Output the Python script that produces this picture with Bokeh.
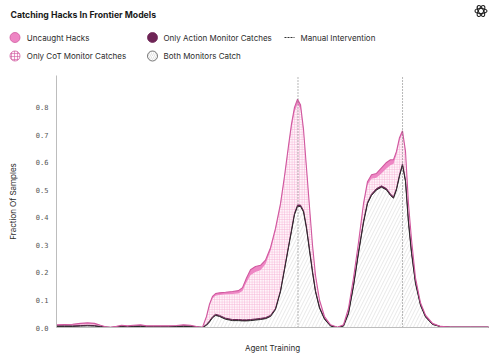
import numpy as np
from bokeh.plotting import figure
from bokeh.models import Range1d
from bokeh.core.properties import value
from bokeh.embed import file_html
from bokeh.resources import INLINE

# ---------------- data ----------------
training_step = [0.0, 1.85, 3.70, 5.56, 7.18, 8.80, 10.19, 11.34, 12.50, 13.89, 15.05, 16.44, 17.82,
                 19.44, 20.83, 22.45, 24.07, 25.93, 27.78, 29.40, 31.02, 32.64, 33.80, 34.72, 35.42,
                 36.11, 36.81, 37.73, 39.12, 40.74, 42.13, 43.06, 43.98, 44.91, 46.06, 47.22, 48.38,
                 49.54, 50.69, 51.85, 52.78, 53.70, 54.40, 55.09, 55.79, 56.48, 57.18, 57.87, 58.56,
                 59.26, 59.95, 60.88, 62.04, 63.43, 65.05, 66.44, 67.59, 68.75, 69.91, 71.06, 71.99,
                 72.92, 74.07, 75.23, 76.39, 77.31, 78.01, 78.70, 79.40, 80.09, 80.79, 81.48, 82.18,
                 83.10, 84.26, 85.42, 87.04, 88.89, 91.20, 95.83, 100.0]

total_hacks = [0.010, 0.011, 0.012, 0.015, 0.017, 0.015, 0.008, 0.003, 0.001, 0.004, 0.008, 0.006, 0.008,
               0.010, 0.006, 0.006, 0.006, 0.006, 0.007, 0.010, 0.008, 0.003, 0.001, 0.040, 0.085,
               0.113, 0.123, 0.126, 0.128, 0.131, 0.134, 0.145, 0.180, 0.210, 0.222, 0.226, 0.245,
               0.290, 0.360, 0.450, 0.550, 0.660, 0.740, 0.800, 0.830, 0.810, 0.720, 0.580, 0.440,
               0.300, 0.190, 0.100, 0.040, 0.010, 0.001, 0.010, 0.070, 0.180, 0.310, 0.450, 0.530,
               0.555, 0.560, 0.580, 0.600, 0.610, 0.610, 0.640, 0.690, 0.715, 0.640, 0.450, 0.320,
               0.180, 0.090, 0.045, 0.015, 0.004, 0.0016, 0.0016, 0.0016]

both_catch = [0.004, 0.004, 0.004, 0.005, 0.006, 0.005, 0.003, 0.001, 0.000, 0.001, 0.003, 0.002, 0.003,
              0.004, 0.003, 0.003, 0.003, 0.003, 0.003, 0.004, 0.003, 0.001, 0.000, 0.008, 0.020,
              0.035, 0.044, 0.040, 0.030, 0.025, 0.025, 0.024, 0.024, 0.025, 0.027, 0.029, 0.032,
              0.040, 0.065, 0.130, 0.210, 0.290, 0.350, 0.410, 0.440, 0.440, 0.420, 0.360, 0.280,
              0.200, 0.130, 0.070, 0.030, 0.005, 0.000, 0.005, 0.050, 0.150, 0.270, 0.380, 0.450,
              0.480, 0.500, 0.510, 0.500, 0.480, 0.470, 0.500, 0.550, 0.590, 0.530, 0.380, 0.270,
              0.160, 0.080, 0.038, 0.011, 0.003, 0.001, 0.001, 0.001]

action_only = [0.002, 0.002, 0.002, 0.002, 0.002, 0.002, 0.001, 0.0005, 0.0003, 0.001, 0.002, 0.001, 0.002,
               0.002, 0.001, 0.001, 0.001, 0.001, 0.001, 0.002, 0.002, 0.001, 0.0003, 0.003, 0.004,
               0.004, 0.004, 0.004, 0.004, 0.004, 0.004, 0.004, 0.004, 0.004, 0.004, 0.004, 0.004,
               0.004, 0.004, 0.004, 0.004, 0.005, 0.005, 0.005, 0.005, 0.005, 0.005, 0.005, 0.005,
               0.005, 0.004, 0.004, 0.003, 0.002, 0.0003, 0.002, 0.004, 0.004, 0.005, 0.005, 0.005,
               0.005, 0.005, 0.005, 0.005, 0.005, 0.005, 0.005, 0.005, 0.005, 0.005, 0.005, 0.005,
               0.004, 0.004, 0.003, 0.002, 0.0005, 0.0003, 0.0003, 0.0003]

uncaught = [0.003, 0.003, 0.003, 0.004, 0.004, 0.004, 0.002, 0.001, 0.0005, 0.001, 0.002, 0.002, 0.002,
            0.003, 0.002, 0.002, 0.002, 0.002, 0.002, 0.003, 0.002, 0.001, 0.0005, 0.004, 0.007,
            0.008, 0.008, 0.008, 0.008, 0.009, 0.010, 0.012, 0.016, 0.020, 0.020, 0.018, 0.015,
            0.012, 0.012, 0.012, 0.013, 0.014, 0.016, 0.018, 0.018, 0.016, 0.012, 0.010, 0.008,
            0.007, 0.006, 0.004, 0.003, 0.002, 0.0005, 0.002, 0.004, 0.006, 0.008, 0.010, 0.012,
            0.014, 0.016, 0.020, 0.022, 0.020, 0.016, 0.012, 0.010, 0.010, 0.010, 0.008, 0.006,
            0.005, 0.004, 0.003, 0.001, 0.0005, 0.0003, 0.0003, 0.0003]

interventions = [55.9, 80.1]
y_ticks = [0.0, 0.1, 0.2, 0.3, 0.4, 0.5, 0.6, 0.7, 0.8]
y_tick_labels = ["0.0", "0.1", "0.2", "0.3", "0.4", "0.5", "0.6", "0.7", "0.8"]
x_domain = (0.0, 100.0)
y_domain = (0.0, 0.916)
legend_labels = ["Uncaught Hacks", "Only CoT Monitor Catches", "Only Action Monitor Catches",
                 "Both Monitors Catch", "Manual Intervention"]
title_text = "Catching Hacks In Frontier Models"
x_label = "Agent Training"
y_label = "Fraction Of Samples"

# ---------------- colours ----------------
PINK = "#ee86c4"
PINK_LINE = "#d0599f"
PURPLE = "#6e2456"
GRID_PINK = "#f5b5d6"
COT_BG = "#fff5fa"
HATCH_GREY = "#d9d9d9"
AXIS = "#bdbdbd"
TEXT = "#2b2b2b"
FONT = "Inter"

# ---------------- layout: plot area inside the canvas ----------------
W, H = 491, 355
AREA_L, AREA_R, AREA_T, AREA_B = 56, 488, 75, 327   # pixel box of the plot area
kx = (AREA_R - AREA_L) / (x_domain[1] - x_domain[0])
ky = (AREA_B - AREA_T) / (y_domain[1] - y_domain[0])


def X(px):  # canvas pixel -> x data
    return x_domain[0] + (px - AREA_L) / kx


def Y(py):  # canvas pixel -> y data
    return y_domain[0] + (AREA_B - py) / ky


# ---------------- stacking ----------------
x = np.array(training_step)
b = np.array(both_catch)
a = np.array(action_only)
u = np.array(uncaught)
t = np.array(total_hacks)
cot = np.clip(t - b - a - u, 0, None)
a_top = b + a
c_top = a_top + cot
u_top = c_top + u

p = figure(width=W, height=H, x_range=Range1d(X(0), X(W)), y_range=Range1d(Y(H), Y(0)),
           output_backend="svg", toolbar_location=None, min_border=0,
           x_axis_location=None, y_axis_location=None)
p.grid.visible = False
p.outline_line_color = None

# stacked areas
p.varea(x=x, y1=np.zeros_like(b), y2=b, fill_color="white", hatch_pattern="/",
        hatch_color=HATCH_GREY, hatch_scale=7, hatch_weight=0.6)
p.varea(x=x, y1=b, y2=a_top, fill_color=PURPLE)
p.varea(x=x, y1=a_top, y2=c_top, fill_color=COT_BG, hatch_pattern="+",
        hatch_color=GRID_PINK, hatch_scale=2.5, hatch_weight=0.6)
p.varea(x=x, y1=c_top, y2=u_top, fill_color=PINK)

p.line(x=x, y=a_top, line_color=PURPLE, line_width=1)
p.line(x=x, y=b, line_color="#2a2a2a", line_width=1)
p.line(x=x, y=u_top, line_color=PINK_LINE, line_width=1.1)

# manual interventions
p.segment(x0=interventions, y0=[y_domain[0]] * len(interventions), x1=interventions,
          y1=[y_domain[1]] * len(interventions), line_color="#707070", line_width=1,
          line_dash="1 2")

# axes lines
p.segment(x0=[x_domain[0], x_domain[0]], y0=[y_domain[0], y_domain[0]],
          x1=[x_domain[0], x_domain[1]], y1=[y_domain[1], y_domain[0]],
          line_color=AXIS, line_width=1)

# y tick labels
p.text(x=[X(AREA_L - 8)] * len(y_ticks), y=y_ticks, text=y_tick_labels,
       text_font=value("DejaVu Sans Mono"), text_font_size="7px", text_color="#555555",
       text_align="right", text_baseline="middle")

# axis titles
p.text(x=[X(12)], y=[(y_domain[0] + y_domain[1]) / 2], text=[y_label], angle=np.pi / 2,
       text_font=value(FONT), text_font_size="8px", text_color=TEXT,
       text_align="center", text_baseline="middle")
p.text(x=[(x_domain[0] + x_domain[1]) / 2], y=[Y(347)], text=[x_label],
       text_font=value(FONT), text_font_size="8px", text_color=TEXT,
       text_align="center", text_baseline="middle")

# title
p.text(x=[X(10)], y=[Y(14.5)], text=[title_text], text_font=value(FONT),
       text_font_style="bold", text_font_size="8.7px", text_baseline="alphabetic",
       text_color="#1a1a1a")

# legend
marker_styles = [
    dict(fill_color=PINK, line_color=PINK_LINE),
    dict(fill_color=COT_BG, line_color=PINK_LINE, hatch_pattern="+", hatch_color=PINK_LINE,
         hatch_scale=3, hatch_weight=0.6),
    dict(fill_color=PURPLE, line_color=PURPLE),
    dict(fill_color="white", line_color="#555555", hatch_pattern="/", hatch_color="#cccccc",
         hatch_scale=4, hatch_weight=0.6),
]
marker_pos = [(14.5, 37), (14.5, 55.5), (152, 37), (152, 55.5)]
text_pos = [(26.3, 37), (26.3, 55.5), (163, 37), (163, 55.5), (300, 37)]
for (cx, cy), st in zip(marker_pos, marker_styles):
    p.scatter(x=[X(cx)], y=[Y(cy)], size=10, line_width=0.8, **st)
p.text(x=[X(tx) for tx, _ in text_pos], y=[Y(ty) for _, ty in text_pos], text=legend_labels,
       text_font=value(FONT), text_font_size="8px", text_baseline="middle", text_color=TEXT)
p.line(x=[X(284), X(294)], y=[Y(37), Y(37)], line_color="#333333", line_width=1,
       line_dash="2 1")

# OpenAI-style knot logo (approximation)
p.ellipse(x=[X(480.5)] * 3, y=[Y(10.5)] * 3, width=12, height=5, width_units="screen",
          height_units="screen", angle=[0, np.pi / 3, 2 * np.pi / 3], fill_color=None,
          line_color="#222222", line_width=1.1)

open("out.html", "w").write(file_html(p, INLINE))
